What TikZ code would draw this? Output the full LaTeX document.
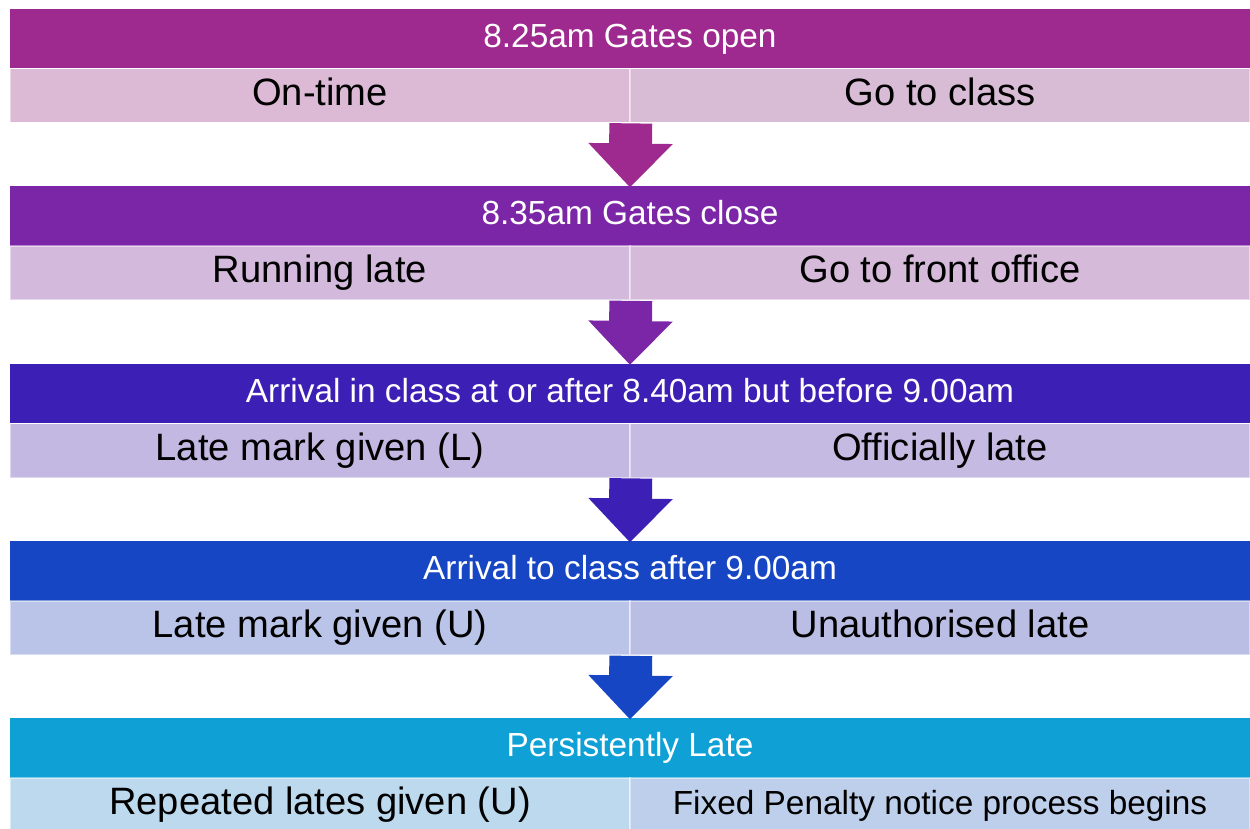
\documentclass[tikz,border=0pt]{standalone}
\usepackage{fontspec}
\setmainfont{Liberation Sans}
\usetikzlibrary{arrows.meta}
\definecolor{hA}{HTML}{9E2A8F}\definecolor{lA}{HTML}{DCBAD6}\definecolor{rA}{HTML}{D8BCD6}
\definecolor{hB}{HTML}{7B26A7}\definecolor{lB}{HTML}{D3BADD}\definecolor{rB}{HTML}{D5BADA}
\definecolor{hC}{HTML}{3C20B5}\definecolor{lC}{HTML}{C2B8E2}\definecolor{rC}{HTML}{C5BAE2}
\definecolor{hD}{HTML}{1746C5}\definecolor{lD}{HTML}{BAC4E8}\definecolor{rD}{HTML}{BBBEE4}
\definecolor{hE}{HTML}{0FA0D5}\definecolor{lE}{HTML}{BCD9EE}\definecolor{rE}{HTML}{BDCFEB}
\tikzset{
  header/.style={rectangle, inner sep=0pt, minimum width=24.8cm, minimum height=1.2cm,
    text height=1.0em, text depth=0pt,
    text=white, font=\fontsize{19pt}{22pt}\selectfont},
  cell/.style={rectangle, inner sep=0pt, minimum width=12.4cm, minimum height=1.08cm,
    text height=1.1em, text depth=0pt,
    draw=white, draw opacity=0.45, line width=1pt, text=black, font=\fontsize{21.7pt}{25pt}\selectfont},
  flow/.style={line width=24.4pt, -{Triangle[width=46.5pt,length=25pt]}, shorten >=-1pt}
}
\begin{document}
\begin{tikzpicture}[x=0.02cm,y=-0.02cm]
\useasboundingbox (0,0) rectangle (1250,828);
\clip (0,0) rectangle (1250,828);
% stage 1
\node[header, fill=hA] (h1) at (630,38.5) {8.25am Gates open};
\node[cell, fill=lA] (l1) at (320,95.5) {On-time};
\node[cell, fill=rA] (r1) at (940,95.5) {Go to class};
% stage 2
\node[header, fill=hB] (h2) at (630,216) {8.35am Gates close};
\node[cell, fill=lB] (l2) at (320,273) {Running late};
\node[cell, fill=rB] (r2) at (940,273) {Go to front office};
% stage 3
\node[header, fill=hC] (h3) at (630,393.5) {Arrival in class at or after 8.40am but before 9.00am};
\node[cell, fill=lC] (l3) at (320,450.5) {Late mark given (L)};
\node[cell, fill=rC] (r3) at (940,450.5) {Officially late};
% stage 4
\node[header, fill=hD] (h4) at (630,571) {Arrival to class after 9.00am};
\node[cell, fill=lD] (l4) at (320,628) {Late mark given (U)};
\node[cell, fill=rD] (r4) at (940,628) {Unauthorised late};
% stage 5
\node[header, fill=hE] (h5) at (630,748) {Persistently Late};
\node[cell, fill=lE] (l5) at (320,805) {Repeated lates given (U)};
\node[cell, fill=rE, font=\fontsize{19pt}{22pt}\selectfont, text height=1.1em] (r5) at (940,805) {Fixed Penalty notice process begins};
% arrows
\draw[flow, hA] (l1.south east) -- (h2.north);
\draw[flow, hB] (l2.south east) -- (h3.north);
\draw[flow, hC] (l3.south east) -- (h4.north);
\draw[flow, hD] (l4.south east) -- (h5.north);
\end{tikzpicture}
\end{document}
